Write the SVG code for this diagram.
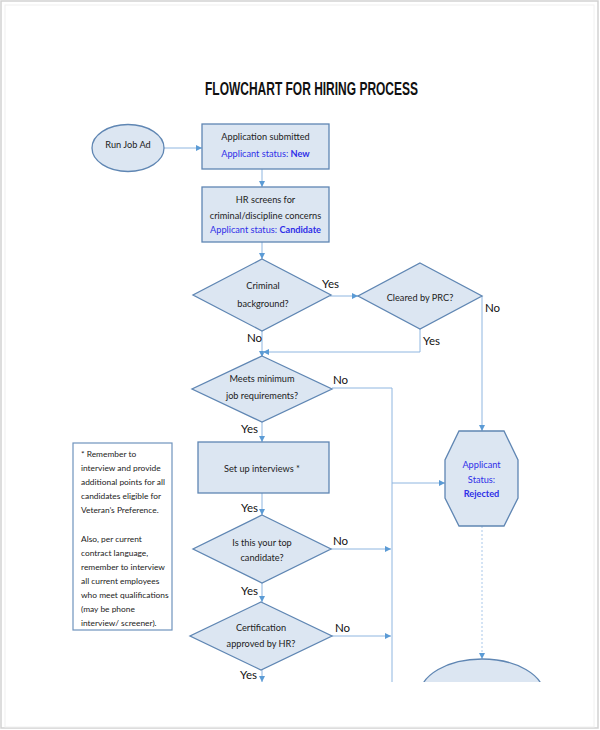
<svg xmlns="http://www.w3.org/2000/svg" width="600" height="730" viewBox="0 0 600 730">
<defs>
<style>
.node{fill:#dce6f2;stroke:#5f86b3;stroke-width:1.3}
.t{font-family:Lato,"Liberation Sans",sans-serif;font-size:9.2px;fill:#222;text-anchor:middle}
.b{fill:#2f2fe8}
.bb{fill:#2f2fe8;font-weight:bold}
.lbl{font-family:Lato,"Liberation Sans",sans-serif;font-size:11.5px;fill:#111}
.note{font-family:Lato,"Liberation Sans",sans-serif;font-size:8.4px;fill:#222}
.c{fill:none;stroke:#8fb6e0;stroke-width:1}
.d{fill:none;stroke:#a9c8ea;stroke-width:1;stroke-dasharray:2,2}
</style>
<marker id="ah" viewBox="0 0 10 10" refX="10" refY="5" markerWidth="6" markerHeight="6" orient="auto" markerUnits="userSpaceOnUse">
<path d="M0,0 L10,5 L0,10 z" fill="#5b9bd5"/>
</marker>
<clipPath id="clip"><rect x="0" y="0" width="600" height="682"/></clipPath>
</defs>
<rect x="0" y="0" width="600" height="730" fill="#fff"/>
<rect x="1" y="1" width="597" height="727" fill="none" stroke="#d2d2d2" stroke-width="1.5"/>
<rect x="5" y="5" width="589" height="722" fill="none" stroke="#f0f0f0" stroke-width="1"/>
<text x="311.5" y="95" font-family="'Liberation Sans',Arial,sans-serif" font-weight="bold" font-size="17.5" text-anchor="middle" textLength="213" lengthAdjust="spacingAndGlyphs" fill="#111">FLOWCHART FOR HIRING PROCESS</text>
<g clip-path="url(#clip)">
<g id="connectors">
<line class="c" x1="164" y1="148" x2="202" y2="148" marker-end="url(#ah)"/>
<line class="c" x1="262" y1="169" x2="262" y2="187" marker-end="url(#ah)"/>
<line class="c" x1="262" y1="242" x2="262" y2="259" marker-end="url(#ah)"/>
<line class="c" x1="330" y1="296" x2="358" y2="296" marker-end="url(#ah)"/>
<line class="c" x1="262" y1="331" x2="262" y2="357" marker-end="url(#ah)"/>
<polyline class="c" points="420,329 420,352 263,352" marker-end="url(#ah)"/>
<line class="c" x1="482" y1="296" x2="482" y2="431" marker-end="url(#ah)"/>
<polyline class="c" points="332,388 392,388 392,690"/>
<line class="c" x1="392" y1="483" x2="445" y2="483" marker-end="url(#ah)"/>
<line class="c" x1="262" y1="422" x2="262" y2="442" marker-end="url(#ah)"/>
<line class="c" x1="262" y1="493" x2="262" y2="515" marker-end="url(#ah)"/>
<line class="c" x1="331" y1="549" x2="391" y2="549" marker-end="url(#ah)"/>
<line class="c" x1="262" y1="583" x2="262" y2="602" marker-end="url(#ah)"/>
<line class="c" x1="332" y1="636" x2="391" y2="636" marker-end="url(#ah)"/>
<line class="c" x1="262" y1="670" x2="262" y2="682" marker-end="url(#ah)"/>
<line class="d" x1="482" y1="526" x2="482" y2="659" marker-end="url(#ah)"/>
</g>
<g id="labels">
<text class="lbl" x="322" y="288">Yes</text>
<text class="lbl" x="485" y="312">No</text>
<text class="lbl" x="247" y="342">No</text>
<text class="lbl" x="423" y="345">Yes</text>
<text class="lbl" x="333" y="384">No</text>
<text class="lbl" x="241" y="433">Yes</text>
<text class="lbl" x="241" y="512">Yes</text>
<text class="lbl" x="333" y="545">No</text>
<text class="lbl" x="241" y="595">Yes</text>
<text class="lbl" x="335" y="632">No</text>
<text class="lbl" x="240" y="679">Yes</text>
</g>
<g id="run-job-ad">
<ellipse class="node" cx="128" cy="148" rx="36" ry="23.5"/>
<text class="t" x="128" y="148">Run Job Ad</text>
</g>
<g id="application-submitted">
<rect class="node" x="202" y="124" width="127" height="45"/>
<text class="t" x="265.5" y="140">Application submitted</text>
<text class="t b" x="265.5" y="157">Applicant status: <tspan font-weight="bold">New</tspan></text>
</g>
<g id="hr-screens">
<rect class="node" x="202" y="187" width="127" height="55"/>
<text class="t" x="265.5" y="203">HR screens for</text>
<text class="t" x="265.5" y="219">criminal/discipline concerns</text>
<text class="t b" x="265.5" y="233">Applicant status: <tspan font-weight="bold">Candidate</tspan></text>
</g>
<g id="criminal-background">
<polygon class="node" points="262,259 331,295 262,331 193,295"/>
<text class="t" x="263" y="289">Criminal</text>
<text class="t" x="263" y="307">background?</text>
</g>
<g id="cleared-by-prc">
<polygon class="node" points="420,263 482,296 420,329 358,296"/>
<text class="t" x="420" y="301">Cleared by PRC?</text>
</g>
<g id="meets-minimum">
<polygon class="node" points="262,356 332,389 262,422 192,389"/>
<text class="t" x="262" y="382">Meets minimum</text>
<text class="t" x="262" y="399">job requirements?</text>
</g>
<g id="set-up-interviews">
<rect class="node" x="198" y="442" width="131" height="51"/>
<text class="t" x="262" y="472">Set up interviews *</text>
</g>
<g id="top-candidate">
<polygon class="node" points="262,515 331,549 262,583 193,549"/>
<text class="t" x="262" y="546">Is this your top</text>
<text class="t" x="262" y="561">candidate?</text>
</g>
<g id="certification">
<polygon class="node" points="261,602 332,636 261,670 190,636"/>
<text class="t" x="261" y="631">Certification</text>
<text class="t" x="261" y="647">approved by HR?</text>
</g>
<g id="rejected">
<polygon class="node" points="459,431 504,431 518,460 518,498 504,526 459,526 445,498 445,460"/>
<text class="t b" x="481.5" y="468">Applicant</text>
<text class="t b" x="481.5" y="483">Status:</text>
<text class="t bb" x="481.5" y="497">Rejected</text>
</g>
<g id="hr-decision">
<ellipse class="node" cx="482" cy="695" rx="62" ry="36"/>
</g>
</g>
<g id="note">
<rect x="73" y="443" width="99" height="187" fill="#fff" stroke="#6f93bd" stroke-width="1.2"/>
<text class="note" x="81" y="457">* Remember to</text>
<text class="note" x="81" y="471">interview and provide</text>
<text class="note" x="81" y="485">additional points for all</text>
<text class="note" x="81" y="499">candidates eligible for</text>
<text class="note" x="81" y="513">Veteran’s Preference.</text>
<text class="note" x="81" y="542">Also, per current</text>
<text class="note" x="81" y="556">contract language,</text>
<text class="note" x="81" y="570">remember to interview</text>
<text class="note" x="81" y="584">all current employees</text>
<text class="note" x="81" y="598">who meet qualifications</text>
<text class="note" x="81" y="612">(may be phone</text>
<text class="note" x="81" y="626">interview/ screener).</text>
</g>
</svg>
